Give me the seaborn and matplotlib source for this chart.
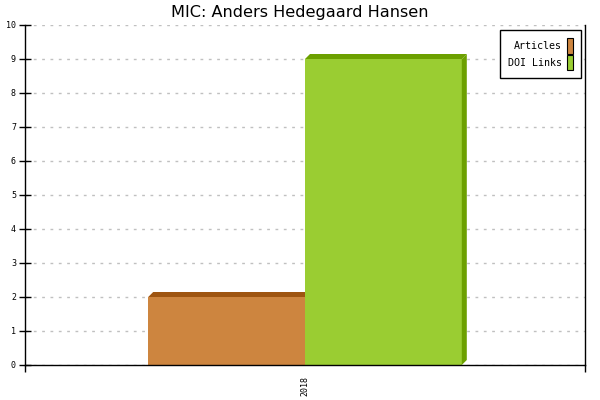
import numpy as np
import pandas as pd
import matplotlib as mpl
mpl.use("Agg")
import matplotlib.pyplot as plt
import seaborn as sns
from matplotlib.patches import Polygon, Patch

# data
years = ["2018"]
articles = [2]
doi_links = [9]
series = ["Articles", "DOI Links"]
colors = ["#cd853f", "#9acd32"]
dark_colors = ["#9e5511", "#6ca000"]

df = pd.DataFrame({
    "year": years * 2,
    "count": articles + doi_links,
    "series": ["Articles"] * len(years) + ["DOI Links"] * len(years),
})

sns.set_style("white")
mono = "DejaVu Sans Mono"

fig = plt.figure(figsize=(6, 4), dpi=100)
ax = fig.add_axes([25 / 600, 35 / 400, 560 / 600, 340 / 400])

sns.barplot(data=df, x="year", y="count", hue="series", hue_order=series,
            palette=colors, saturation=1, width=1.12, dodge=True,
            legend=False, ax=ax, linewidth=0, edgecolor="none")

ax.set_xlim(-1, 1)
ax.set_ylim(0, 10)

# fake 3d depth on each bar, later series drawn over earlier ones
dx = 5 / 280.0
dy = 5 / 34.0
for i, (p, dc) in enumerate(zip(ax.patches, dark_colors)):
    z = 2 + i
    p.set_zorder(z)
    x0 = p.get_x()
    x1 = x0 + p.get_width()
    h = p.get_height()
    top = Polygon([(x0, h), (x0 + dx, h + dy), (x1 + dx, h + dy), (x1, h)],
                  closed=True, facecolor=dc, edgecolor="none", zorder=z)
    side = Polygon([(x1, 0), (x1 + dx, dy), (x1 + dx, h + dy), (x1, h)],
                   closed=True, facecolor=dc, edgecolor="none", zorder=z)
    ax.add_patch(top)
    ax.add_patch(side)

# axes styling
for s in ["left", "bottom", "right"]:
    ax.spines[s].set_visible(True)
    ax.spines[s].set_color("black")
    ax.spines[s].set_linewidth(1)
    ax.spines[s].set_zorder(10)
ax.spines["top"].set_visible(False)

ax.set_yticks(range(0, 11))
ax.tick_params(axis="y", direction="inout", length=9, width=1, color="black",
               labelsize=6, labelcolor="black", pad=2, left=True)
for lab in ax.get_yticklabels():
    lab.set_family(mono)

ax.set_xticks([0])
ax.set_xticklabels(years, rotation=90, family=mono, fontsize=6)
ax.tick_params(axis="x", length=0, pad=8, labelcolor="black")
ax.set_xticks([-1, 1], minor=True)
ax.tick_params(axis="x", which="minor", direction="out", length=5, width=1,
               color="black", bottom=True)

ax.yaxis.grid(True, color="#c0c0c0", linestyle=(0, (2, 4)), linewidth=1)
ax.set_axisbelow(True)
ax.set_xlabel("")
ax.set_ylabel("")

handles = [Patch(facecolor=c, edgecolor="black", linewidth=0.8) for c in colors]
leg = ax.legend(handles, series, loc="upper right",
                bbox_to_anchor=(0.993, 0.985), borderaxespad=0,
                markerfirst=False, handlelength=0.6, handleheight=2.0,
                handletextpad=0.5, labelspacing=0.12, borderpad=0.8,
                fancybox=False, framealpha=1, edgecolor="black",
                prop={"family": mono, "size": 7.2})
leg.get_frame().set_linewidth(1)
leg.set_zorder(20)
for t in leg.get_texts():
    t.set_ha("right")
    t.set_color("black")

fig.text(0.5, 1 - 17 / 400, "MIC: Anders Hedegaard Hansen", ha="center",
         va="baseline", fontsize=11.6, family="DejaVu Sans", color="black")

fig.savefig("out.png", dpi=100)
